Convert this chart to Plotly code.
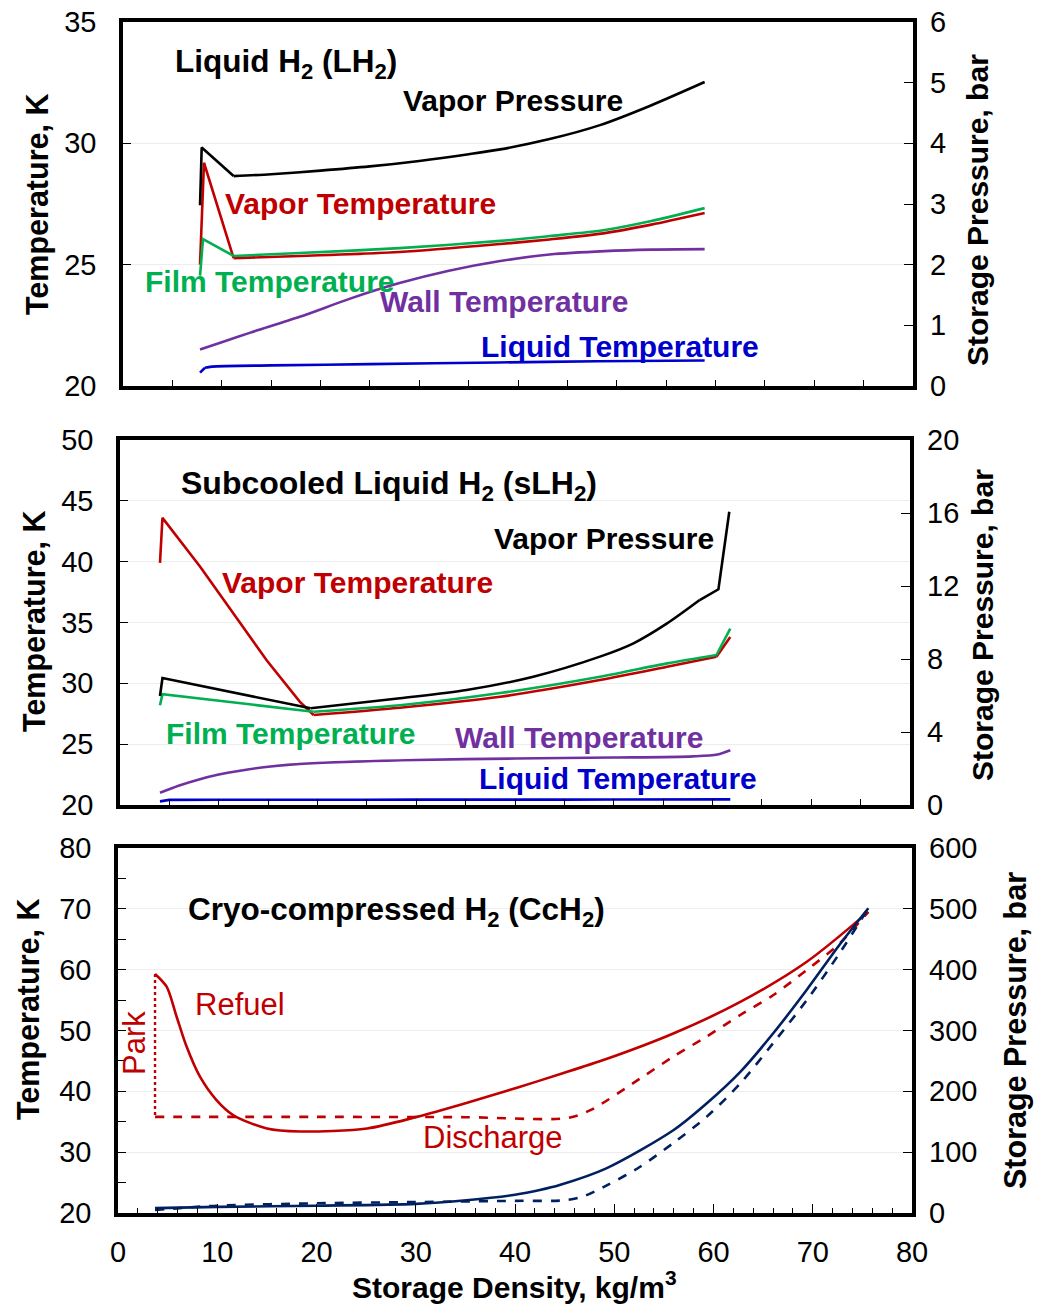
import plotly.graph_objects as go

W, H = 1048, 1305
OFF = 8  # page body offset of the figure in the browser
FONT = "Liberation Sans, Arial, sans-serif"
RED = "#C00000"
GREEN = "#00B050"
PURPLE = "#7030A0"
BLUE = "#0000CC"
NAVY = "#002060"

# ---------------- Panel 1: Liquid H2 (LH2) ----------------
lh2_vp_x = [7.8, 7.97, 11.2, 15, 20, 25, 30, 35, 38.2, 43.2, 48.3, 53.4, 58.9]
lh2_vp_p = [2.98, 3.93, 3.46, 3.49, 3.55, 3.62, 3.71, 3.82, 3.90, 4.07, 4.30, 4.62, 5.01]
lh2_vt_x = [7.8, 8.2, 11.2, 17.9, 28, 38.2, 43.2, 48.8, 53.5, 58.9]
lh2_vt_t = [25.0, 29.2, 25.27, 25.36, 25.52, 25.85, 26.04, 26.3, 26.65, 27.13]
lh2_ft_x = [7.8, 8.1, 11.2, 17.9, 28, 38.2, 43.2, 48.8, 53.5, 58.9]
lh2_ft_t = [24.55, 26.05, 25.36, 25.48, 25.68, 25.98, 26.18, 26.43, 26.8, 27.33]
lh2_wt_x = [7.8, 10, 12.9, 17.9, 23, 28, 33, 38.2, 43.2, 48.8, 53.5, 58.9]
lh2_wt_t = [21.5, 21.8, 22.2, 22.85, 23.6, 24.24, 24.75, 25.15, 25.42, 25.56, 25.62, 25.64]
lh2_lt_x = [7.8, 8.3, 9, 15, 25, 38, 48, 58.9]
lh2_lt_t = [20.55, 20.75, 20.8, 20.85, 20.9, 20.97, 21.02, 21.05]

# ---------------- Panel 2: Subcooled Liquid H2 (sLH2) ----------------
slh2_vp_x = [4.05, 4.3, 19.3, 28.35, 35.1, 41.85, 48.6, 52.0, 55.4, 58.7, 60.6, 61.7]
slh2_vp_p = [5.97, 6.96, 5.3, 5.85, 6.3, 7.03, 8.13, 8.86, 9.95, 11.23, 11.82, 16.07]
slh2_vt_x = [4.05, 4.3, 8.1, 11.5, 14.85, 18.2, 19.6, 28.35, 38.5, 48.6, 55.4, 60.4, 61.8]
slh2_vt_t = [39.9, 43.6, 39.6, 35.75, 31.9, 28.5, 27.4, 28.0, 28.9, 30.27, 31.36, 32.19, 33.8]
slh2_ft_x = [4.05, 4.3, 19.6, 28.35, 38.5, 48.6, 55.4, 60.4, 61.8]
slh2_ft_t = [28.2, 29.1, 27.67, 28.2, 29.2, 30.54, 31.64, 32.33, 34.5]
slh2_wt_x = [4.05, 6, 8, 10, 12, 15, 20, 30, 40, 50, 58, 60.5, 61.8]
slh2_wt_t = [21.0, 21.6, 22.1, 22.5, 22.8, 23.15, 23.45, 23.7, 23.82, 23.9, 24.0, 24.15, 24.5]
slh2_lt_x = [4.05, 5, 10, 20, 30, 40, 50, 61.8]
slh2_lt_t = [20.3, 20.42, 20.43, 20.43, 20.44, 20.44, 20.45, 20.46]

# ---------------- Panel 3: Cryo-compressed H2 (CcH2) ----------------
cc_refuel_x = [3.73, 4.9, 5.9, 6.9, 8.26, 9.9, 11.6, 15.0, 18.3, 25.1, 30.1, 35.1, 40.2, 44.5, 49.2, 55.95, 62.7, 69.4, 75.6]
cc_refuel_t = [59.3, 57.2, 52.3, 47.4, 42.4, 38.6, 36.1, 33.9, 33.4, 33.9, 35.8, 38.1, 40.6, 42.8, 45.3, 49.5, 54.7, 61.3, 69.5]
cc_park_x = [3.73, 3.73]
cc_park_t = [59.3, 35.8]
cc_dis_x = [3.73, 20, 35, 45.2, 47.6, 52.6, 55.95, 59.3, 62.7, 66.0, 69.4, 72.7, 75.6]
cc_dis_t = [35.8, 35.8, 35.75, 35.6, 36.9, 42.1, 45.7, 49.0, 52.55, 55.8, 59.95, 64.3, 69.5]
cc_p_ref_x = [3.73, 10, 20, 30, 35.1, 40, 42.5, 44.5, 49.2, 55.95, 59.3, 62.7, 66.0, 69.4, 72.7, 75.6]
cc_p_ref_p = [8, 10, 12, 15, 21, 30, 37.8, 46, 73.4, 136, 180, 232, 295, 367, 441, 501]
cc_p_dis_x = [3.73, 10, 20, 30, 40, 45.0, 47.0, 49.2, 52.6, 55.95, 59.3, 62.7, 66.0, 69.4, 72.7, 75.6]
cc_p_dis_p = [5, 12, 16, 18, 20, 21, 28, 45, 76, 115, 158, 213, 279, 350, 427, 501]


def px(x):
    return (x - OFF) / W


def py(y):
    return 1 - (y - OFF) / H


fig = go.Figure()


def add_line(xs, ys, xa, ya, color, name, head=0, tail=0, dash="solid", width=2.6, smooth=True):
    """Linear segments for the first `head` and last `tail` intervals, smooth spline between."""
    n = len(xs)
    style = dict(color=color, width=width, dash=dash)
    if head > 0:
        fig.add_trace(go.Scatter(x=xs[:head + 1], y=ys[:head + 1], xaxis=xa, yaxis=ya, mode="lines",
                                 line=style, name=name, hoverinfo="skip"))
    mid_x = xs[head:n - tail]
    mid_y = ys[head:n - tail]
    shape = "spline" if smooth else "linear"
    fig.add_trace(go.Scatter(x=mid_x, y=mid_y, xaxis=xa, yaxis=ya, mode="lines", line_shape=shape,
                             line=dict(style, smoothing=0.8) if smooth else style, name=name))
    if tail > 0:
        fig.add_trace(go.Scatter(x=xs[n - tail - 1:], y=ys[n - tail - 1:], xaxis=xa, yaxis=ya, mode="lines",
                                 line=style, name=name, hoverinfo="skip"))


# panel 1 traces
add_line(lh2_vp_x, lh2_vp_p, "x", "y2", "black", "Vapor Pressure (LH2)", head=2)
add_line(lh2_vt_x, lh2_vt_t, "x", "y", RED, "Vapor Temperature (LH2)", head=2)
add_line(lh2_ft_x, lh2_ft_t, "x", "y", GREEN, "Film Temperature (LH2)", head=2)
add_line(lh2_wt_x, lh2_wt_t, "x", "y", PURPLE, "Wall Temperature (LH2)")
add_line(lh2_lt_x, lh2_lt_t, "x", "y", BLUE, "Liquid Temperature (LH2)", head=1)

# panel 2 traces
add_line(slh2_vp_x, slh2_vp_p, "x2", "y4", "black", "Vapor Pressure (sLH2)", head=2, tail=2)
add_line(slh2_vt_x, slh2_vt_t, "x2", "y3", RED, "Vapor Temperature (sLH2)", head=6, tail=1)
add_line(slh2_ft_x, slh2_ft_t, "x2", "y3", GREEN, "Film Temperature (sLH2)", head=2, tail=1)
add_line(slh2_wt_x, slh2_wt_t, "x2", "y3", PURPLE, "Wall Temperature (sLH2)")
add_line(slh2_lt_x, slh2_lt_t, "x2", "y3", BLUE, "Liquid Temperature (sLH2)", head=1)

# panel 3 traces
add_line(cc_refuel_x, cc_refuel_t, "x3", "y5", RED, "Refuel temperature")
add_line(cc_park_x, cc_park_t, "x3", "y5", RED, "Park", dash="dot", width=2.4, smooth=False)
add_line(cc_dis_x, cc_dis_t, "x3", "y5", RED, "Discharge temperature", dash="dash")
add_line(cc_p_ref_x, cc_p_ref_p, "x3", "y6", NAVY, "Refuel pressure")
add_line(cc_p_dis_x, cc_p_dis_p, "x3", "y6", NAVY, "Discharge pressure", dash="dash")

TICKFONT = dict(family=FONT, size=29, color="black")


def xaxis_cfg(domain, anchor, labels):
    d = dict(domain=domain, anchor=anchor, range=[0, 80], showline=True, mirror=True,
             linecolor="black", linewidth=3.5, showgrid=False, zeroline=False, automargin=False,
             ticks="inside", tickcolor="black", tickwidth=1.3, tickfont=TICKFONT,
             ticklabeloverflow="allow")
    if labels:
        d.update(dtick=10, ticklen=9, showticklabels=True, ticklabelstandoff=10,
                 minor=dict(dtick=2, ticks="inside", ticklen=5, tickcolor="black", tickwidth=1.3))
    else:
        d.update(dtick=5, ticklen=6, showticklabels=False)
    return d


def yleft_cfg(domain, anchor, rng, dtick, minor=None):
    d = dict(domain=domain, anchor=anchor, range=rng, dtick=dtick, showline=True, mirror=True,
             linecolor="black", linewidth=3.5, showgrid=True, gridcolor="#EDEDED", gridwidth=1,
             zeroline=False, ticks="inside", ticklen=8, tickcolor="black", tickwidth=1.3,
             tickfont=TICKFONT, ticklabelstandoff=17, automargin=False, ticklabeloverflow="allow")
    if minor:
        d["minor"] = dict(dtick=minor, ticks="inside", ticklen=8, tickcolor="black", tickwidth=1.3)
    return d


def yright_cfg(overlay, anchor, rng, dtick):
    return dict(overlaying=overlay, anchor=anchor, side="right", range=rng, dtick=dtick,
                showline=False, showgrid=False, zeroline=False, ticks="inside", ticklen=9,
                tickcolor="black", tickwidth=1.3, tickfont=TICKFONT, ticklabelstandoff=16,
                automargin=False, ticklabeloverflow="allow")


fig.update_layout(
    template="none",
    width=W, height=H, autosize=False,
    margin=dict(l=0, r=0, t=0, b=0, pad=0, autoexpand=False),
    paper_bgcolor="white", plot_bgcolor="white",
    showlegend=False,
    font=dict(family=FONT, color="black"),
    xaxis=xaxis_cfg([px(123), px(913)], "y", False),
    yaxis=yleft_cfg([py(386), py(22)], "x", [20, 35], 5),
    yaxis2=yright_cfg("y", "x", [0, 6], 1),
    xaxis2=xaxis_cfg([px(120), px(910)], "y3", False),
    yaxis3=yleft_cfg([py(805), py(440)], "x2", [20, 50], 5),
    yaxis4=yright_cfg("y3", "x2", [0, 20], 4),
    xaxis3=xaxis_cfg([px(118), px(912)], "y5", True),
    yaxis5=yleft_cfg([py(1213), py(848)], "x3", [20, 80], 10, minor=5),
    yaxis6=yright_cfg("y5", "x3", [0, 600], 100),
)


def ann(text, x, y, color="black", bold=True, size=30, angle=0, xanchor="center"):
    t = "<b>" + text + "</b>" if bold else text
    fig.add_annotation(text=t, x=px(x), y=py(y), xref="paper", yref="paper", showarrow=False,
                       xanchor=xanchor, yanchor="middle", textangle=angle,
                       font=dict(family=FONT, size=size, color=color))


# axis titles
ann("Temperature, K", 37, 205, angle=-90, size=30.5)
ann("Storage Pressure, bar", 977, 210, angle=-90)
ann("Temperature, K", 35, 622, angle=-90, size=30.5)
ann("Storage Pressure, bar", 982, 625, angle=-90)
ann("Temperature, K", 28, 1010, angle=-90, size=30.5)
ann("Storage Pressure, bar", 1015, 1031, angle=-90, size=30.5)
ann("Storage Density, kg/m<sup>3</sup>", 514, 1285, size=30)

# panel 1 labels
ann("Liquid H<sub>2</sub> (LH<sub>2</sub>)", 173, 63, xanchor="left", size=31.5)
ann("Vapor Pressure", 513, 100)
ann("Vapor Temperature", 360, 204, color=RED)
ann("Film Temperature", 270, 282, color=GREEN)
ann("Wall Temperature", 504, 302, color=PURPLE)
ann("Liquid Temperature", 620, 347, color=BLUE)

# panel 2 labels
ann("Subcooled Liquid H<sub>2</sub> (sLH<sub>2</sub>)", 179, 485, xanchor="left", size=32)
ann("Vapor Pressure", 604, 539)
ann("Vapor Temperature", 357, 582, color=RED)
ann("Film Temperature", 291, 733, color=GREEN)
ann("Wall Temperature", 579, 738, color=PURPLE)
ann("Liquid Temperature", 618, 778, color=BLUE)

# panel 3 labels
ann("Cryo-compressed H<sub>2</sub> (CcH<sub>2</sub>)", 186, 911, xanchor="left", size=31.5)
ann("Refuel", 240, 1004, color=RED, bold=False, size=31)
ann("Park", 134, 1043, color=RED, bold=False, size=31, angle=-90)
ann("Discharge", 493, 1137, color=RED, bold=False, size=31)

fig.write_html("out.html")
